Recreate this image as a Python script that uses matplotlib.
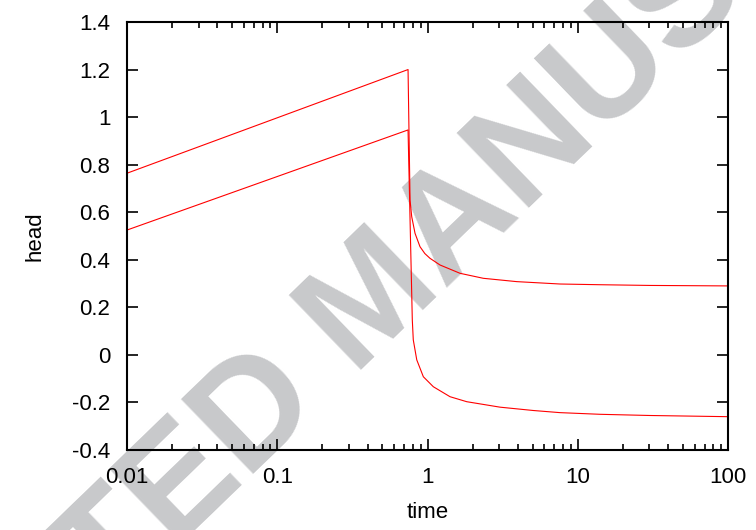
import numpy as np
import matplotlib
matplotlib.use("Agg")
import matplotlib.pyplot as plt
from matplotlib.ticker import LogLocator, FixedLocator, FuncFormatter, NullLocator

plt.rcParams['font.family'] = ['Liberation Sans', 'DejaVu Sans']

# head vs time, two curves
t_upper = [0.01, 0.742, 0.765, 0.785, 0.826, 0.891, 0.96, 1.039, 1.211, 1.646, 2.352,
           3.925, 7.62, 14.1, 30.2, 100.0]
h_upper = [0.764, 1.2, 0.651, 0.581, 0.511, 0.455, 0.426, 0.406, 0.378, 0.343, 0.322,
           0.308, 0.298, 0.295, 0.292, 0.29]

t_lower = [0.01, 0.742, 0.792, 0.804, 0.848, 0.938, 1.093, 1.412, 1.824, 3.04, 5.06,
           7.62, 14.1, 30.2, 100.0]
h_lower = [0.525, 0.946, 0.147, 0.063, -0.021, -0.092, -0.134, -0.176, -0.197, -0.22, -0.234,
           -0.243, -0.25, -0.255, -0.26]

x_ticks = [0.01, 0.1, 1, 10, 100]
y_ticks = [-0.4, -0.2, 0, 0.2, 0.4, 0.6, 0.8, 1, 1.2, 1.4]

fig = plt.figure(figsize=(7.56, 5.30), dpi=100)
ax = fig.add_subplot(111)
fig.subplots_adjust(left=0.168, right=0.963, top=0.9585, bottom=0.151)
ax.patch.set_facecolor('none')

# watermark, behind everything
fig.text(375/756, 1 - 302/530, 'ACCEPTED MANUSCRIPT', fontsize=108, fontweight='bold',
         color='#c8c9cb', rotation=44, ha='center', va='center',
         rotation_mode='anchor', zorder=-1)

ax.plot(t_upper, h_upper, color='red', lw=0.8)
ax.plot(t_lower, h_lower, color='red', lw=0.8)

ax.set_xscale('log')
ax.set_xlim(0.01, 100)
ax.set_ylim(-0.4, 1.4)
ax.xaxis.set_major_locator(FixedLocator(x_ticks))
ax.xaxis.set_minor_locator(LogLocator(base=10, subs=np.arange(2, 10)))
ax.yaxis.set_major_locator(FixedLocator(y_ticks))
ax.yaxis.set_minor_locator(NullLocator())
fmt = FuncFormatter(lambda v, p: '%g' % round(v, 6))
ax.xaxis.set_major_formatter(fmt)
ax.yaxis.set_major_formatter(fmt)

for s in ax.spines.values():
    s.set_linewidth(1.5)
ax.tick_params(which='both', direction='in', top=True, right=True, labelsize=16, width=1.2)
ax.tick_params(which='major', length=8, pad=12)
ax.tick_params(which='minor', length=4)

ax.set_xlabel('time', fontsize=16, va='center')
ax.set_ylabel('head', fontsize=16, va='center')
ax.xaxis.set_label_coords(0.5, -0.147)
ax.yaxis.set_label_coords(-0.153, 0.5)

fig.savefig('out.png', dpi=100)
